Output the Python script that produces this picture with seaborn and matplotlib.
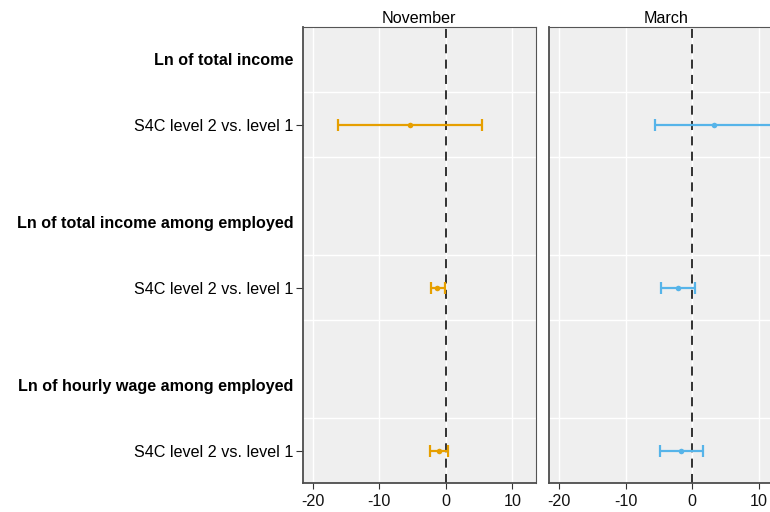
import numpy as np
import pandas as pd
import seaborn as sns
import matplotlib.pyplot as plt

# data
outcomes = ["Ln of total income",
            "Ln of total income among employed",
            "Ln of hourly wage among employed"]
contrast = "S4C level 2 vs. level 1"
panels = ["November", "March"]
nov_est = [-5.4, -1.25, -1.05]
nov_lo = [-16.2, -2.25, -2.35]
nov_hi = [5.5, -0.15, 0.3]
mar_est = [3.25, -2.15, -1.65]
mar_lo = [-5.55, -4.65, -4.85]
mar_hi = [12.05, 0.45, 1.7]
colors = {"November": "#E69F00", "March": "#56B4E9"}

header_pos = [0, 2.5, 5]
item_pos = [1, 3.5, 6]
grid_pos = [0.5, 1.5, 3, 4, 5.5]

df = pd.DataFrame({
    "panel": ["November"] * 3 + ["March"] * 3,
    "outcome": outcomes * 2,
    "ypos": item_pos * 2,
    "est": nov_est + mar_est,
    "lo": nov_lo + mar_lo,
    "hi": nov_hi + mar_hi,
})

sns.set_theme(style="darkgrid")
plt.rcParams["font.family"] = ["Liberation Sans", "DejaVu Sans"]
fs = 11.6

fig = plt.figure(figsize=(7.7, 5.12), dpi=100)
w = 232.7 / 770
h = 456.6 / 512
b = (512 - 483.3) / 512
axes = [fig.add_axes([303 / 770, b, w, h]),
        fig.add_axes([549.3 / 770, b, w, h])]

for i, (ax, p) in enumerate(zip(axes, panels)):
    d = df[df["panel"] == p]
    c = colors[p]
    ax.set_facecolor("#EFEFEF")
    ax.errorbar(d["est"], d["ypos"],
                xerr=[d["est"] - d["lo"], d["hi"] - d["est"]],
                fmt="none", ecolor=c, elinewidth=1.6, capsize=4,
                capthick=1.6, zorder=3)
    sns.scatterplot(data=d, x="est", y="ypos", color=c, s=16,
                    edgecolor=c, linewidth=0, ax=ax, zorder=4, legend=False)
    ax.axvline(0, color="#222222", lw=1.3, ls=(0, (5, 3.5)), zorder=2)

    ax.set_xlim(-21.45, 13.5)
    ax.set_ylim(6.5, -0.5)
    ax.set_xticks([-20, -10, 0, 10])
    ax.set_xticklabels(["-20", "-10", "0", "10"])
    ax.set_yticks(header_pos + item_pos)
    ax.set_yticks(grid_pos, minor=True)
    ax.grid(False)
    ax.grid(True, axis="x", which="major", color="white", lw=1)
    ax.grid(True, axis="y", which="minor", color="white", lw=1)
    ax.set_xlabel("")
    ax.set_ylabel("")
    ax.set_title(p, fontsize=fs, pad=3, color="black")
    ax.tick_params(axis="x", bottom=True, length=4.5, width=0.8,
                   color="#333333", labelsize=fs, labelcolor="#111111", pad=3)
    ax.tick_params(axis="y", which="minor", left=False, length=0)
    for s in ax.spines.values():
        s.set_visible(True)
        s.set_color("#555555")
        s.set_linewidth(0.8)
    for s in ("left", "bottom"):
        ax.spines[s].set_color("#4d4d4d")
        ax.spines[s].set_linewidth(1.3)

    if i == 0:
        ax.set_yticklabels(outcomes + [contrast] * 3)
        ax.tick_params(axis="y", which="major", left=True, length=5,
                       width=0.8, color="#333333", labelsize=fs,
                       labelcolor="black", pad=2)
        ticks = ax.yaxis.get_major_ticks()
        for t, lab in zip(ticks[:3], ax.get_yticklabels()[:3]):
            t.tick1line.set_visible(False)
            lab.set_fontweight("bold")
            t.set_pad(2)
    else:
        ax.set_yticklabels([])
        ax.tick_params(axis="y", which="major", left=False, length=0)

fig.savefig("out.png", dpi=100)
